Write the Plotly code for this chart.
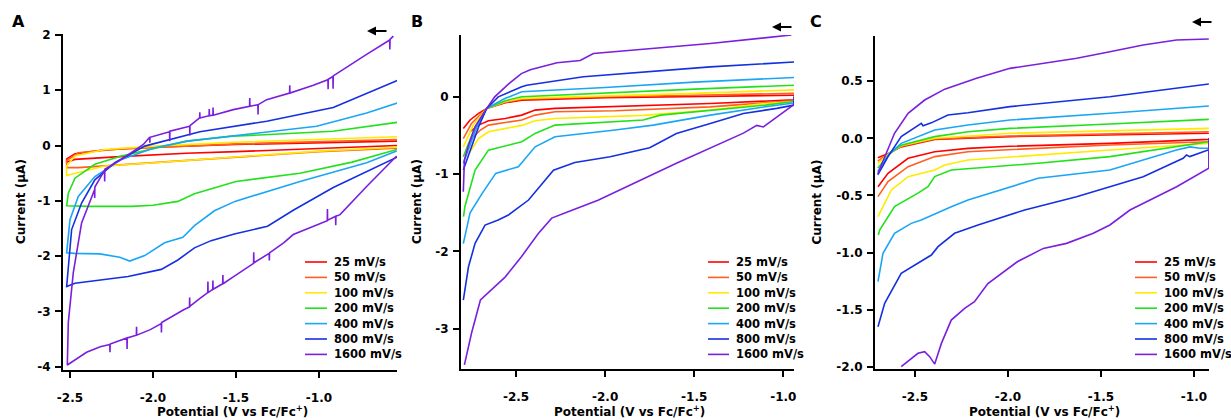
import plotly.graph_objects as go

W, H = 1231, 420

# ---------------- data ----------------
rates = ["25 mV/s", "50 mV/s", "100 mV/s", "200 mV/s", "400 mV/s", "800 mV/s", "1600 mV/s"]
colors = ["#FF0000", "#FF5F1F", "#FFEA00", "#22E11A", "#1AA6F5", "#1530E0", "#7A1FDD"]

# Panel A: complete paths (closed at the negative end)
A_potential = [
    [-0.53, -1.0, -1.5, -2.0, -2.3, -2.47, -2.52, -2.52, -2.47, -2.2, -1.8, -1.5, -1.0, -0.53],
    [-0.53, -1.0, -1.5, -1.8, -2.2, -2.45, -2.52, -2.52, -2.45, -2.2, -1.8, -1.5, -1.0, -0.53],
    [-0.53, -1.0, -1.52, -1.99, -2.29, -2.47, -2.52, -2.52, -2.47, -2.29, -1.99, -1.5, -1.0, -0.53],
    [-0.526, -0.916, -1.3, -1.52, -1.8, -1.99, -2.19, -2.35, -2.47, -2.51, -2.52, -2.39, -2.13, -2.0,
     -1.85, -1.75, -1.65, -1.5, -1.115, -0.8, -0.53],
    [-0.526, -0.713, -1.014, -1.506, -1.79, -1.99, -2.19, -2.35, -2.45, -2.5, -2.52, -2.47, -2.32, -2.2,
     -2.14, -2.05, -1.93, -1.82, -1.75, -1.63, -1.506, -1.114, -0.713, -0.532],
    [-0.526, -0.914, -1.315, -1.717, -2.05, -2.23, -2.35, -2.43, -2.49, -2.52, -2.47, -2.15, -1.95, -1.85,
     -1.75, -1.65, -1.51, -1.31, -1.155, -0.914, -0.53],
    [-0.552, -0.572, -0.573, -0.574, -0.713, -0.914, -0.915, -0.916, -0.944, -0.945, -0.946, -1.034,
     -1.175, -1.176, -1.177, -1.315, -1.366, -1.367, -1.368, -1.416, -1.417, -1.418, -1.516, -1.637,
     -1.638, -1.639, -1.66, -1.661, -1.662, -1.717, -1.718, -1.719, -1.777, -1.778, -1.779, -1.898,
     -1.899, -1.9, -2.018, -2.019, -2.02, -2.058, -2.19, -2.29, -2.291, -2.292, -2.35, -2.351, -2.352,
     -2.43, -2.48, -2.51, -2.516,
     -2.40, -2.318, -2.26, -2.259, -2.258, -2.157, -2.156, -2.155, -2.10, -2.099, -2.098, -2.016,
     -1.95, -1.949, -1.948, -1.815, -1.78, -1.779, -1.778, -1.715, -1.67, -1.669, -1.668, -1.64,
     -1.639, -1.638, -1.58, -1.579, -1.578, -1.514, -1.394, -1.393, -1.392, -1.30, -1.299, -1.298,
     -1.213, -1.155, -0.95, -0.949, -0.948, -0.90, -0.899, -0.898, -0.873, -0.713, -0.532],
]
A_current = [
    [0.08, 0.05, 0.02, -0.03, -0.08, -0.15, -0.24, -0.30, -0.25, -0.20, -0.14, -0.11, -0.05, 0.0],
    [0.11, 0.07, 0.03, -0.01, -0.06, -0.13, -0.27, -0.40, -0.40, -0.35, -0.27, -0.20, -0.11, -0.05],
    [0.16, 0.11, 0.06, -0.01, -0.07, -0.19, -0.37, -0.54, -0.50, -0.37, -0.31, -0.20, -0.10, -0.03],
    [0.42, 0.26, 0.20, 0.17, 0.08, -0.05, -0.19, -0.34, -0.59, -0.86, -1.09, -1.10, -1.10, -1.08,
     -1.01, -0.87, -0.78, -0.65, -0.50, -0.30, -0.07],
    [0.77, 0.59, 0.35, 0.18, 0.08, -0.04, -0.25, -0.56, -0.92, -1.34, -1.94, -1.95, -1.96, -2.02,
     -2.09, -1.99, -1.76, -1.66, -1.45, -1.18, -1.01, -0.65, -0.31, -0.10],
    [1.18, 0.69, 0.44, 0.25, -0.01, -0.31, -0.62, -1.04, -1.52, -2.55, -2.49, -2.37, -2.24, -2.07,
     -1.85, -1.72, -1.60, -1.46, -1.17, -0.76, -0.21],
    [1.98, 1.92, 1.74, 1.91, 1.65, 1.26, 1.03, 1.25, 1.20, 1.02, 1.19, 1.09,
     0.95, 1.09, 0.95, 0.83, 0.74, 0.56, 0.74, 0.71, 0.86, 0.71, 0.65, 0.55,
     0.69, 0.55, 0.54, 0.66, 0.54, 0.50, 0.60, 0.50, 0.36, 0.18, 0.35, 0.26,
     0.08, 0.25, 0.15, 0.05, 0.15, 0.02, -0.25, -0.43, -0.65, -0.45, -0.75, -0.95, -0.80,
     -1.4, -2.3, -3.2, -3.97,
     -3.74, -3.64, -3.60, -3.74, -3.59, -3.48, -3.68, -3.48, -3.43, -3.28, -3.43, -3.33,
     -3.22, -3.38, -3.20, -2.97, -2.92, -2.75, -2.91, -2.76, -2.66, -2.46, -2.66, -2.60,
     -2.44, -2.60, -2.50, -2.34, -2.50, -2.37, -2.13, -1.93, -2.12, -1.95, -2.08, -1.94,
     -1.76, -1.61, -1.36, -1.15, -1.35, -1.28, -1.44, -1.28, -1.25, -0.74, -0.19],
]

# Panel B: branch run back from the negative end, and branch run to the negative end
B_upper_potential = [
    [-2.796, -2.758, -2.71, -2.665, -2.56, -2.468, -2.0, -1.5, -0.94],
    [-2.796, -2.75, -2.665, -2.56, -2.468, -2.0, -1.5, -0.94],
    [-2.796, -2.74, -2.665, -2.56, -2.468, -2.0, -1.5, -0.94],
    [-2.796, -2.73, -2.665, -2.56, -2.468, -2.0, -1.5, -0.94],
    [-2.796, -2.72, -2.665, -2.56, -2.468, -2.0, -1.5, -0.94],
    [-2.796, -2.71, -2.665, -2.6, -2.468, -2.44, -2.122, -1.786, -1.41, -0.94],
    [-2.796, -2.79, -2.77, -2.73, -2.67, -2.62, -2.54, -2.47, -2.42, -2.27, -2.14, -2.066, -1.41, -0.955],
]
B_upper_current = [
    [-0.41, -0.30, -0.215, -0.15, -0.077, -0.043, -0.01, 0.0, 0.02],
    [-0.54, -0.345, -0.15, -0.07, -0.03, 0.0, 0.02, 0.045],
    [-0.647, -0.366, -0.15, -0.06, -0.02, 0.01, 0.045, 0.09],
    [-0.776, -0.388, -0.15, -0.05, 0.0, 0.05, 0.10, 0.15],
    [-0.86, -0.388, -0.15, -0.02, 0.065, 0.12, 0.19, 0.25],
    [-0.948, -0.388, -0.15, 0.0, 0.13, 0.15, 0.26, 0.323, 0.387, 0.45],
    [-1.23, -0.82, -0.65, -0.39, -0.17, 0.0, 0.17, 0.30, 0.35, 0.44, 0.47, 0.56, 0.69, 0.80],
]
B_lower_potential = [
    [-0.94, -0.94, -1.41, -1.944, -2.281, -2.393, -2.468, -2.56, -2.655, -2.71, -2.758],
    [-0.94, -0.94, -1.41, -1.944, -2.281, -2.393, -2.468, -2.655, -2.7, -2.758],
    [-0.94, -0.94, -1.1, -1.41, -1.786, -1.944, -2.281, -2.393, -2.468, -2.655, -2.71, -2.765],
    [-0.94, -0.94, -1.1, -1.41, -1.69, -1.786, -1.972, -2.281, -2.393, -2.468, -2.655, -2.73, -2.787, -2.795],
    [-0.94, -0.94, -1.1, -1.41, -1.73, -1.944, -2.281, -2.393, -2.487, -2.614, -2.69, -2.758, -2.796],
    [-0.94, -0.94, -1.037, -1.224, -1.41, -1.6, -1.75, -1.972, -2.17, -2.29, -2.43, -2.543, -2.6,
     -2.674, -2.73, -2.767, -2.796],
    [-0.94, -0.935, -1.035, -1.112, -1.149, -1.224, -1.6, -2.04, -2.19, -2.3, -2.375, -2.47, -2.56,
     -2.64, -2.70, -2.75, -2.79],
]
B_lower_current = [
    [0.0, -0.04, -0.086, -0.12, -0.15, -0.172, -0.237, -0.28, -0.31, -0.366, -0.452],
    [0.0, -0.05, -0.13, -0.18, -0.194, -0.237, -0.30, -0.366, -0.43, -0.56],
    [0.0, -0.06, -0.086, -0.17, -0.24, -0.25, -0.28, -0.31, -0.37, -0.452, -0.54, -0.733],
    [0.0, -0.06, -0.108, -0.172, -0.237, -0.30, -0.324, -0.366, -0.474, -0.582, -0.69, -0.948, -1.42, -1.55],
    [0.0, -0.08, -0.129, -0.237, -0.367, -0.43, -0.517, -0.647, -0.905, -0.991, -1.25, -1.5, -1.9],
    [0.0, -0.108, -0.15, -0.216, -0.345, -0.474, -0.66, -0.776, -0.85, -0.95, -1.336, -1.53, -1.595,
     -1.66, -1.897, -2.2, -2.63],
    [0.0, -0.09, -0.26, -0.39, -0.37, -0.47, -0.86, -1.34, -1.47, -1.57, -1.77, -2.07, -2.33,
     -2.5, -2.63, -3.06, -3.47],
]

# Panel C
C_upper_potential = [
    [-2.7, -2.64, -2.574, -2.394, -1.989, -1.452, -0.92],
    [-2.7, -2.64, -2.574, -2.394, -1.989, -1.452, -0.92],
    [-2.7, -2.64, -2.574, -2.394, -1.989, -1.452, -0.92],
    [-2.7, -2.64, -2.574, -2.394, -2.215, -1.989, -1.452, -0.92],
    [-2.7, -2.64, -2.574, -2.394, -2.215, -1.989, -1.452, -0.92],
    [-2.7, -2.645, -2.574, -2.466, -2.457, -2.44, -2.412, -2.323, -2.215, -1.989, -1.452, -0.92],
    [-2.7, -2.663, -2.61, -2.537, -2.448, -2.34, -2.169, -1.989, -1.81, -1.63, -1.452, -1.273, -1.094, -0.92],
]
C_upper_current = [
    [-0.17, -0.13, -0.075, -0.01, 0.015, 0.03, 0.044],
    [-0.20, -0.13, -0.07, -0.005, 0.02, 0.04, 0.058],
    [-0.22, -0.135, -0.065, 0.0, 0.044, 0.067, 0.087],
    [-0.26, -0.14, -0.06, 0.015, 0.058, 0.087, 0.125, 0.166],
    [-0.29, -0.14, -0.044, 0.073, 0.117, 0.16, 0.219, 0.283],
    [-0.32, -0.16, 0.015, 0.131, 0.11, 0.12, 0.135, 0.204, 0.224, 0.277, 0.364, 0.475],
    [-0.31, -0.16, 0.044, 0.219, 0.335, 0.43, 0.525, 0.612, 0.656, 0.70, 0.758, 0.816, 0.86, 0.869],
]
C_lower_potential = [
    [-0.92, -0.92, -1.452, -1.989, -2.215, -2.394, -2.537, -2.645, -2.699],
    [-0.92, -0.92, -1.452, -1.838, -2.215, -2.394, -2.537, -2.645, -2.699],
    [-0.92, -0.92, -1.452, -1.838, -2.215, -2.34, -2.394, -2.537, -2.627, -2.699],
    [-0.92, -0.92, -1.452, -1.838, -2.305, -2.394, -2.43, -2.484, -2.61, -2.69, -2.697],
    [-0.92, -0.92, -0.968, -1.022, -1.094, -1.452, -1.838, -2.215, -2.305, -2.394, -2.466, -2.52,
     -2.61, -2.672, -2.699],
    [-0.92, -0.92, -1.022, -1.04, -1.058, -1.273, -1.631, -1.91, -2.161, -2.287, -2.376, -2.412,
     -2.574, -2.663, -2.699],
    [-0.92, -0.92, -1.093, -1.344, -1.452, -1.541, -1.685, -1.81, -1.95, -2.108, -2.18, -2.233,
     -2.305, -2.358, -2.394, -2.421, -2.448, -2.484, -2.574],
]
C_lower_current = [
    [0.0, -0.009, -0.044, -0.07, -0.088, -0.117, -0.175, -0.306, -0.423],
    [0.0, -0.03, -0.058, -0.088, -0.117, -0.16, -0.248, -0.379, -0.51],
    [0.0, -0.044, -0.102, -0.146, -0.19, -0.233, -0.277, -0.335, -0.452, -0.685],
    [0.0, -0.03, -0.16, -0.218, -0.277, -0.335, -0.423, -0.48, -0.598, -0.802, -0.846],
    [0.0, -0.087, -0.087, -0.075, -0.102, -0.277, -0.35, -0.54, -0.598, -0.665, -0.715, -0.744,
     -0.831, -1.006, -1.254],
    [0.0, -0.10, -0.16, -0.146, -0.175, -0.336, -0.511, -0.627, -0.758, -0.831, -0.948, -1.021,
     -1.181, -1.444, -1.648],
    [0.0, -0.262, -0.423, -0.627, -0.758, -0.831, -0.919, -0.963, -1.08, -1.27, -1.43, -1.487,
     -1.59, -1.794, -1.975, -1.91, -1.866, -1.881, -1.998],
]

# tick labels
A_yticks = [2, 1, 0, -1, -2, -3, -4]
A_yticktext = ["2", "1", "0", "-1", "-2", "-3", "-4"]
B_yticks = [0, -1, -2, -3]
B_yticktext = ["0", "-1", "-2", "-3"]
C_yticks = [0.5, 0.0, -0.5, -1.0, -1.5, -2.0]
C_yticktext = ["0.5", "0.0", "-0.5", "-1.0", "-1.5", "-2.0"]
x_ticks = [-2.5, -2.0, -1.5, -1.0]
x_ticktext = ["-2.5", "-2.0", "-1.5", "-1.0"]

x_title = "Potential (V vs Fc/Fc<sup>+</sup>)"
y_title = "Current (µA)"
panel_labels = ["A", "B", "C"]

# ---------------- figure ----------------
FONT = "DejaVu Sans"
fig = go.Figure()

for i in range(7):
    fig.add_trace(go.Scatter(x=A_potential[i], y=A_current[i], mode="lines",
                             line=dict(color=colors[i], width=1.6), name=rates[i],
                             xaxis="x", yaxis="y", showlegend=False))
for i in range(7):
    fig.add_trace(go.Scatter(x=B_upper_potential[i] + [None] + B_lower_potential[i],
                             y=B_upper_current[i] + [None] + B_lower_current[i], mode="lines",
                             line=dict(color=colors[i], width=1.6), name=rates[i],
                             xaxis="x2", yaxis="y2", showlegend=False))
for i in range(7):
    fig.add_trace(go.Scatter(x=C_upper_potential[i] + [None] + C_lower_potential[i],
                             y=C_upper_current[i] + [None] + C_lower_current[i], mode="lines",
                             line=dict(color=colors[i], width=1.6), name=rates[i],
                             xaxis="x3", yaxis="y3", showlegend=False))


def px_x(p):
    return p / W


def px_y(p):
    return 1 - p / H


tickfont = dict(family=FONT, size=12, color="black", weight="bold")
common = dict(showline=True, linecolor="black", linewidth=2, ticks="outside", ticklen=6,
              tickwidth=2, tickcolor="black", showgrid=False, zeroline=False, tickfont=tickfont,
              fixedrange=True, automargin=False)

panels = [
    # x px domain, y px domain, x range, y range, y ticks
    ((63, 397), (34, 370), (-2.542, -0.53), (-4.06, 2.018), A_yticks, A_yticktext),
    ((461, 794), (35, 369), (-2.809, -0.94), (-3.523, 0.80), B_yticks, B_yticktext),
    ((875, 1209), (36, 369), (-2.715, -0.919), (-2.018, 0.895), C_yticks, C_yticktext),
]
layout_axes = {}
for k, (xd, yd, xr, yr, yt, ytt) in enumerate(panels):
    sfx = "" if k == 0 else str(k + 1)
    layout_axes["xaxis" + sfx] = dict(domain=[px_x(xd[0]), px_x(xd[1])], range=list(xr),
                                      anchor="y" + sfx, tickvals=x_ticks, ticktext=x_ticktext,
                                      ticklabelstandoff=10, **common)
    layout_axes["yaxis" + sfx] = dict(domain=[px_y(yd[1]), px_y(yd[0])], range=list(yr),
                                      anchor="x" + sfx, tickvals=yt, ticktext=ytt,
                                      ticklabelstandoff=2, **common)

annotations = []
shapes = []
letter_pos = [(18, 21), (417, 21), (816, 21)]
ytitle_x = [21, 417, 816]
arrow_pos = [(367, 31), (772, 27), (1192, 22)]
legend_line = [(305, 327), (708, 729), (1135, 1157)]
legend_text_x = [333, 735, 1163]
legend_y0, legend_dy = 262, 15.4

for k, (xd, yd, xr, yr, yt, ytt) in enumerate(panels):
    annotations.append(dict(text="<b>%s</b>" % panel_labels[k], x=px_x(letter_pos[k][0]),
                            y=px_y(letter_pos[k][1]), xref="paper", yref="paper",
                            xanchor="center", yanchor="middle", showarrow=False,
                            font=dict(family=FONT, size=16, color="black")))
    annotations.append(dict(text=y_title, x=px_x(ytitle_x[k]), y=px_y((yd[0] + yd[1]) / 2),
                            xref="paper", yref="paper", xanchor="center", yanchor="middle",
                            textangle=-90, showarrow=False,
                            font=dict(family=FONT, size=12, color="black", weight="bold")))
    annotations.append(dict(text=x_title, x=px_x((xd[0] + xd[1]) / 2 + 2), y=px_y(411),
                            xref="paper", yref="paper", xanchor="center", yanchor="middle",
                            showarrow=False,
                            font=dict(family=FONT, size=12, color="black", weight="bold")))
    annotations.append(dict(text="", x=px_x(arrow_pos[k][0]), y=px_y(arrow_pos[k][1]),
                            xref="paper", yref="paper", showarrow=True, ax=21, ay=0,
                            arrowhead=2, arrowsize=1, arrowwidth=1.8, arrowcolor="black"))
    for i in range(7):
        yy = px_y(legend_y0 + i * legend_dy)
        shapes.append(dict(type="line", xref="paper", yref="paper",
                           x0=px_x(legend_line[k][0]), x1=px_x(legend_line[k][1]), y0=yy, y1=yy,
                           line=dict(color=colors[i], width=1.6)))
        annotations.append(dict(text=rates[i], x=px_x(legend_text_x[k]), y=yy, xref="paper",
                                yref="paper", xanchor="left", yanchor="middle", showarrow=False,
                                borderpad=0,
                                font=dict(family=FONT, size=11.5, color="black", weight="bold")))

fig.update_layout(template="none", width=W, height=H, autosize=False,
                  margin=dict(l=0, r=0, t=0, b=0, pad=0),
                  paper_bgcolor="white", plot_bgcolor="white", showlegend=False,
                  font=dict(family=FONT, color="black"),
                  annotations=annotations, shapes=shapes, **layout_axes)

fig.write_html("out.html")
